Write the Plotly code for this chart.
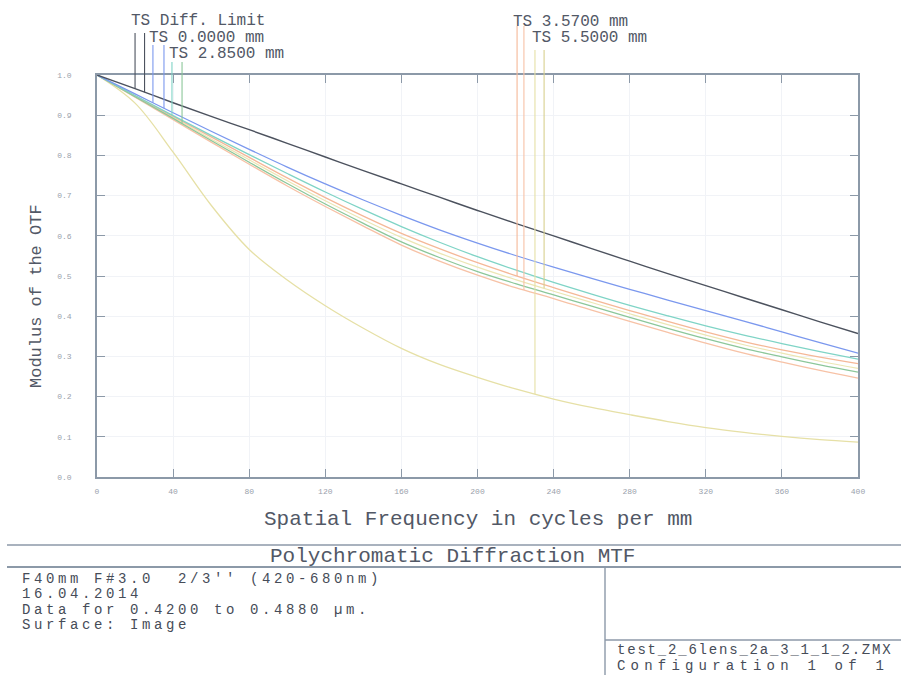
import numpy as np
import plotly.graph_objects as go

# ---------------- data ----------------
freq = [0, 20, 40, 60, 80, 100, 120, 140, 160, 180, 200,
        220, 240, 260, 280, 300, 320, 340, 360, 380, 400]

diff_limit = [1.000, 0.966, 0.931, 0.897, 0.864, 0.830, 0.796, 0.762, 0.729, 0.696, 0.663,
              0.631, 0.600, 0.568, 0.537, 0.506, 0.476, 0.446, 0.416, 0.386, 0.357]
field_000 = [1.000, 0.953, 0.906, 0.860, 0.815, 0.771, 0.729, 0.689, 0.651, 0.615, 0.582,
             0.551, 0.522, 0.494, 0.467, 0.440, 0.414, 0.388, 0.361, 0.334, 0.308]
field_285_t = [1.000, 0.949, 0.899, 0.850, 0.802, 0.755, 0.709, 0.665, 0.623, 0.584, 0.548,
               0.515, 0.484, 0.455, 0.427, 0.401, 0.376, 0.353, 0.332, 0.312, 0.293]
field_285_s = [1.000, 0.946, 0.892, 0.837, 0.783, 0.730, 0.679, 0.631, 0.585, 0.546, 0.511,
               0.481, 0.453, 0.425, 0.397, 0.370, 0.344, 0.320, 0.299, 0.279, 0.261]
field_357_t = [1.000, 0.948, 0.897, 0.846, 0.795, 0.744, 0.695, 0.649, 0.606, 0.568, 0.533,
               0.501, 0.471, 0.442, 0.414, 0.387, 0.361, 0.337, 0.316, 0.298, 0.282]
field_357_s = [1.000, 0.945, 0.889, 0.833, 0.778, 0.724, 0.673, 0.624, 0.577, 0.537, 0.502,
               0.471, 0.444, 0.415, 0.387, 0.360, 0.333, 0.308, 0.286, 0.265, 0.246]
field_550_s = [1.000, 0.947, 0.894, 0.841, 0.789, 0.737, 0.687, 0.640, 0.596, 0.557, 0.522,
               0.491, 0.462, 0.434, 0.406, 0.379, 0.353, 0.329, 0.308, 0.288, 0.270]
field_550_t = [1.000, 0.930, 0.808, 0.676, 0.566, 0.490, 0.426, 0.370, 0.320, 0.280, 0.248,
               0.219, 0.194, 0.173, 0.155, 0.138, 0.123, 0.111, 0.101, 0.093, 0.087]

x_ticks = [0, 40, 80, 120, 160, 200, 240, 280, 320, 360, 400]
y_ticks = [0.0, 0.1, 0.2, 0.3, 0.4, 0.5, 0.6, 0.7, 0.8, 0.9, 1.0]

legend_labels = ["TS Diff. Limit", "TS 0.0000 mm", "TS 2.8500 mm", "TS 3.5700 mm", "TS 5.5000 mm"]
# frequency at which each legend stem meets its curve
marker_freqs = [20, 25, 29.4, 35.2, 39.4, 44.7, 220.8, 224.4, 230.2, 235.0]

title_text = "Polychromatic Diffraction MTF"
info_lines = ["F40mm F#3.0  2/3'' (420-680nm)", "16.04.2014",
              "Data for 0.4200 to 0.4880 \u00b5m.", "Surface: Image"]
file_lines = ["test_2_6lens_2a_3_1_1_2.ZMX", "Configuration 1 of 1"]

# ---------------- styling ----------------
C_DIFF = "#4c525e"
C_BLUE = "#7b98ee"
C_CYAN = "#7fd4c6"
C_GREEN = "#8cc79a"
C_ORANGE = "#f5b898"
C_ORANGE2 = "#f7c2a6"
C_YELLOW = "#e6e0a6"
C_YELLOW2 = "#ece6b4"
FRAME = "#8c99a8"
TXT = "#525866"
TXT2 = "#464c58"
MONO = "Liberation Mono, Courier New, monospace"

W, H = 901, 675
L, R, T, B = 97, 858, 75, 477


def px(x):
    return (x - L) / (R - L)


def py(y):
    return (B - y) / (B - T)


def spaced(text, ls):
    return f'<span style="letter-spacing:{ls}px">{text}</span>'


curves = [
    (field_550_t, C_YELLOW, 1.3),
    (field_357_s, C_ORANGE2, 1.3),
    (field_550_s, C_YELLOW2, 1.2),
    (field_357_t, C_ORANGE, 1.3),
    (field_285_s, C_GREEN, 1.3),
    (field_285_t, C_CYAN, 1.3),
    (field_000, C_BLUE, 1.3),
    (diff_limit, C_DIFF, 1.4),
]

fig = go.Figure()
for ys, col, w in curves:
    fig.add_trace(go.Scatter(x=freq, y=ys, mode="lines",
                             line=dict(color=col, width=w, shape="spline", smoothing=1.0),
                             hoverinfo="skip", showlegend=False))

# legend stems: (freq, curve, colour, top pixel)
stems = [
    (marker_freqs[0], diff_limit, C_DIFF, 33),
    (marker_freqs[1], diff_limit, C_DIFF, 33),
    (marker_freqs[2], field_000, C_BLUE, 45),
    (marker_freqs[3], field_000, C_BLUE, 45),
    (marker_freqs[4], field_285_t, C_CYAN, 62),
    (marker_freqs[5], field_285_s, C_GREEN, 62),
    (marker_freqs[6], field_357_t, C_ORANGE, 26),
    (marker_freqs[7], field_357_s, C_ORANGE2, 26),
    (marker_freqs[8], field_550_t, C_YELLOW, 50),
    (marker_freqs[9], field_550_s, "#d8d08e", 50),
]
shapes = []
for f, ys, col, top in stems:
    yv = float(np.interp(f, freq, ys))
    shapes.append(dict(type="line", xref="x", yref="paper", x0=f, x1=f,
                       y0=yv, y1=py(top), line=dict(color=col, width=1.1)))

# bottom info box
box_line = dict(color=FRAME, width=1.4)
shapes += [
    dict(type="line", xref="paper", yref="paper", x0=px(7), x1=px(901), y0=py(545), y1=py(545), line=box_line),
    dict(type="line", xref="paper", yref="paper", x0=px(7), x1=px(901), y0=py(567), y1=py(567), line=dict(color=FRAME, width=2)),
    dict(type="line", xref="paper", yref="paper", x0=px(605), x1=px(605), y0=py(567), y1=py(676), line=box_line),
    dict(type="line", xref="paper", yref="paper", x0=px(605), x1=px(901), y0=py(640), y1=py(640), line=box_line),
]

annotations = []
label_pos = [(129, 21), (147, 38), (167, 54), (511, 22), (530, 38)]
for text, (lx, ly) in zip(legend_labels, label_pos):
    annotations.append(dict(text=text, x=px(lx), y=py(ly), xref="paper", yref="paper",
                            xanchor="left", yanchor="middle", showarrow=False,
                            font=dict(family=MONO, size=16, color=TXT)))

annotations.append(dict(text="Spatial Frequency in cycles per mm", x=px(478), y=py(519),
                        xref="paper", yref="paper", xanchor="center", yanchor="middle",
                        showarrow=False, font=dict(family=MONO, size=21, color=TXT)))
annotations.append(dict(text="Modulus of the OTF", x=px(36), y=py(296), textangle=-90,
                        xref="paper", yref="paper", xanchor="center", yanchor="middle",
                        showarrow=False, font=dict(family=MONO, size=17, color=TXT)))
annotations.append(dict(text=title_text, x=px(452), y=py(556), xref="paper", yref="paper",
                        xanchor="center", yanchor="middle", showarrow=False,
                        font=dict(family=MONO, size=21, color=TXT)))
for i, line in enumerate(info_lines):
    annotations.append(dict(text=spaced(line, 3.6), x=px(20), y=py(579 + 15.4 * i),
                            xref="paper", yref="paper", xanchor="left", yanchor="middle",
                            showarrow=False, font=dict(family=MONO, size=14, color=TXT2)))
annotations.append(dict(text=spaced(file_lines[0], 1.8), x=px(615), y=py(650), xref="paper", yref="paper",
                        xanchor="left", yanchor="middle", showarrow=False,
                        font=dict(family=MONO, size=14, color=TXT2)))
annotations.append(dict(text=spaced(file_lines[1], 5.2), x=px(615), y=py(665.6), xref="paper", yref="paper",
                        xanchor="left", yanchor="middle", showarrow=False,
                        font=dict(family=MONO, size=14, color=TXT2)))

axis_common = dict(ticks="inside", ticklen=8, tickwidth=1.2, tickcolor=FRAME,
                   showline=True, linecolor=FRAME, linewidth=1.5, mirror="ticks",
                   showgrid=True, gridcolor="#f1f3f7", gridwidth=1, zeroline=False,
                   tickfont=dict(family=MONO, size=8, color="#9aa1ac"), fixedrange=True)

fig.update_layout(
    width=W, height=H, autosize=False,
    margin=dict(l=L, r=W - R, t=T, b=H - B, pad=0),
    paper_bgcolor="white", plot_bgcolor="white",
    xaxis=dict(range=[0, 400], tickvals=x_ticks, ticktext=[str(v) for v in x_ticks],
               ticklabelstandoff=6, **axis_common),
    yaxis=dict(range=[0, 1], domain=[0, 1], tickvals=y_ticks,
               ticktext=[f"{v:.1f}" for v in y_ticks], ticklabelstandoff=22, **axis_common),
    shapes=shapes, annotations=annotations, showlegend=False,
)

fig.write_html("out.html", config={"displayModeBar": False},
               post_script="document.body.style.margin='0';")
